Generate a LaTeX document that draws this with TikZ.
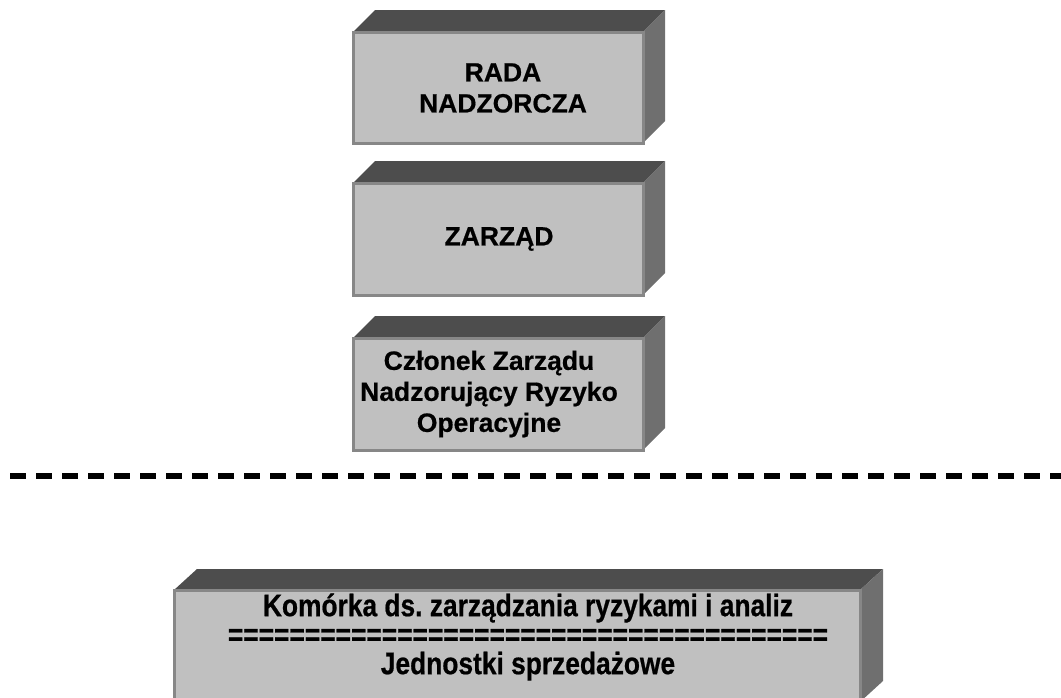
\documentclass[tikz,border=0pt]{standalone}
\usepackage{fontspec}
\setmainfont{Liberation Sans}[BoldFeatures={FakeBold=0.6}]
\newfontfamily\narrowsans{Liberation Sans}[FakeStretch=0.85,BoldFeatures={FakeBold=0.6}]
\frenchspacing
\usetikzlibrary{backgrounds,calc}
\definecolor{frontc}{HTML}{C0C0C0}
\definecolor{edgec}{HTML}{878787}
\definecolor{topc}{HTML}{4D4D4D}
\definecolor{sidec}{HTML}{6F6F6F}
\tikzset{
  frontbox/.style={rectangle, fill=frontc, draw=edgec, line width=3pt,
    inner sep=0pt, outer sep=0pt},
  boxtext/.style={align=center, inner sep=0pt,
    font=\fontsize{26.5pt}{31pt}\selectfont\bfseries},
  topface/.style={fill=topc},
  sideface/.style={fill=sidec},
  divider/.style={line width=5.5pt, dash pattern=on 16pt off 10pt},
  bottomtext/.style={align=center, inner sep=0pt,
    font=\narrowsans\fontsize{31pt}{29pt}\selectfont\bfseries}
}
\begin{document}
\begin{tikzpicture}[x=1pt,y=-1pt]
\useasboundingbox (0,0) rectangle (1061,697);
% front faces
\node[frontbox, minimum width=290pt, minimum height=111pt] (rada) at (498,87.5) {};
\node[frontbox, minimum width=290pt, minimum height=112pt] (zarzad) at (498,239) {};
\node[frontbox, minimum width=290pt, minimum height=112pt] (czlonek) at (498,394) {};
\node[frontbox, minimum width=686pt, minimum height=112pt] (komorka) at (517,646) {};
% texts
\node[boxtext] (radatxt) at (503,88) {RADA\\NADZORCZA};
\node[boxtext] (zarzadtxt) at (499,239) {ZARZĄD};
\node[boxtext] (czlonektxt) at (489,394) {Członek Zarządu\\Nadzorujący Ryzyko\\Operacyjne};
\node[bottomtext] (komtxt) at (528,637) {Komórka ds. zarządzania ryzykami i analiz\\=======================================\\Jednostki sprzedażowe};
% 3D faces
\begin{scope}[on background layer]
\foreach \b in {rada,zarzad,czlonek}{
  \fill[topface] (\b.north west) -- ++(22,-22) -- ($(\b.north east)+(22,-22)$) -- (\b.north east) -- cycle;
  \fill[sideface] (\b.north east) -- ++(22,-22) -- ($(\b.south east)+(22,-22)$) -- (\b.south east) -- cycle;
}
\fill[topface] (komorka.north west) -- ++(23,-21) -- ($(komorka.north east)+(23,-21)$) -- (komorka.north east) -- cycle;
\fill[sideface] (komorka.north east) -- ++(23,-21) -- ($(komorka.south east)+(23,-21)$) -- (komorka.south east) -- cycle;
\end{scope}
% dashed divider
\coordinate (dl) at (10,476);
\coordinate (dr) at (1061,476);
\draw[divider] (dl) -- (dr);
\end{tikzpicture}
\end{document}
